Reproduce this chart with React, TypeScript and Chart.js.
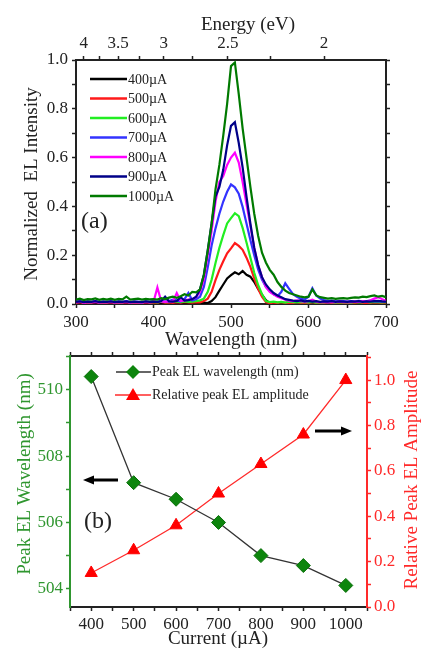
import React, { useEffect, useRef } from 'react';
import { Chart, registerables } from 'chart.js';
Chart.register(...registerables);

// ---------- Panel (a) data ----------
const wavelengths = [
  300, 305, 310, 315, 320, 325, 330, 335, 340, 345,
  350, 355, 360, 365, 370, 375, 380, 385, 390, 395,
  400, 405, 410, 415, 420, 425, 430, 435, 440, 445,
  450, 455, 460, 465, 470, 475, 480, 485, 490, 495,
  500, 505, 510, 515, 520, 525, 530, 535, 540, 545,
  550, 555, 560, 565, 570, 575, 580, 585, 590, 595,
  600, 605, 610, 615, 620, 625, 630, 635, 640, 645,
  650, 655, 660, 665, 670, 675, 680, 685, 690, 695,
  700,
];

const seriesLabels = ['400\u00b5A', '500\u00b5A', '600\u00b5A', '700\u00b5A', '800\u00b5A', '900\u00b5A', '1000\u00b5A'];
const seriesColors = ['#000000', '#ff1a1a', '#22ee22', '#3333ff', '#ff00ff', '#000088', '#007a00'];

const el400 = [
  0.004, 0.006, 0.003, 0.005, 0.004, 0.006, 0.003, 0.005, 0.004, 0.006,
  0.004, 0.005, 0.003, 0.006, 0.004, 0.005, 0.003, 0.004, 0.006, 0.004,
  0.005, 0.004, 0.006, 0.004, 0.005, 0.003, 0.006, 0.004, 0.005, 0.006,
  0.004, 0.006, 0.005, 0.006, 0.004, 0.012, 0.028, 0.055, 0.08, 0.105,
  0.118, 0.13, 0.122, 0.135, 0.12, 0.112, 0.09, 0.062, 0.038, 0.016,
  0.004, 0.002, 0.005, 0.003, 0.004, 0.002, 0.005, 0.003, 0.004, 0.003,
  0.004, 0.003, 0.005, 0.002, 0.004, 0.003, 0.005, 0.004, 0.003, 0.004,
  0.003, 0.005, 0.004, 0.003, 0.005, 0.004, 0.003, 0.005, 0.004, 0.003,
  0.004,
];
const el500 = [
  0.006, 0.008, 0.005, 0.007, 0.006, 0.009, 0.005, 0.007, 0.006, 0.008,
  0.005, 0.007, 0.006, 0.008, 0.005, 0.007, 0.006, 0.005, 0.008, 0.006,
  0.007, 0.005, 0.009, 0.006, 0.007, 0.005, 0.008, 0.006, 0.009, 0.007,
  0.006, 0.008, 0.007, 0.012, 0.022, 0.05, 0.098, 0.14, 0.175, 0.208,
  0.228, 0.25, 0.238, 0.222, 0.19, 0.152, 0.105, 0.062, 0.03, 0.008,
  0.003, 0.006, 0.004, 0.007, 0.005, 0.006, 0.004, 0.007, 0.005, 0.006,
  0.005, 0.007, 0.004, 0.006, 0.005, 0.007, 0.004, 0.006, 0.005, 0.006,
  0.004, 0.006, 0.005, 0.007, 0.004, 0.006, 0.005, 0.007, 0.006, 0.005,
  0.006,
];
const el600 = [
  0.008, 0.01, 0.007, 0.009, 0.008, 0.011, 0.007, 0.009, 0.008, 0.01,
  0.007, 0.009, 0.008, 0.01, 0.007, 0.009, 0.008, 0.007, 0.01, 0.008,
  0.009, 0.007, 0.011, 0.008, 0.009, 0.012, 0.01, 0.008, 0.011, 0.009,
  0.01, 0.012, 0.015, 0.022, 0.05, 0.1, 0.168, 0.23, 0.282, 0.33,
  0.352, 0.372, 0.36, 0.312, 0.252, 0.19, 0.128, 0.078, 0.04, 0.012,
  0.008, 0.01, 0.007, 0.009, 0.006, 0.01, 0.008, 0.007, 0.009, 0.008,
  0.007, 0.009, 0.006, 0.008, 0.007, 0.009, 0.008, 0.006, 0.008, 0.007,
  0.008, 0.006, 0.009, 0.007, 0.008, 0.01, 0.007, 0.009, 0.008, 0.007,
  0.008,
];
const el700 = [
  0.01, 0.012, 0.008, 0.011, 0.009, 0.012, 0.008, 0.01, 0.009, 0.011,
  0.008, 0.011, 0.009, 0.012, 0.008, 0.01, 0.009, 0.008, 0.011, 0.009,
  0.012, 0.009, 0.014, 0.01, 0.012, 0.018, 0.015, 0.01, 0.02, 0.045,
  0.015, 0.02, 0.03, 0.07, 0.15, 0.24, 0.31, 0.37, 0.42, 0.46,
  0.49, 0.478, 0.452, 0.398, 0.33, 0.262, 0.2, 0.142, 0.1, 0.07,
  0.052, 0.04, 0.032, 0.05, 0.085, 0.062, 0.04, 0.03, 0.022, 0.018,
  0.03, 0.065, 0.035, 0.022, 0.016, 0.012, 0.014, 0.011, 0.013, 0.012,
  0.01, 0.012, 0.011, 0.013, 0.01, 0.012, 0.014, 0.011, 0.012, 0.01,
  0.011,
];
const el800 = [
  0.006, 0.009, 0.005, 0.008, 0.007, 0.009, 0.006, 0.008, 0.007, 0.009,
  0.006, 0.008, 0.007, 0.009, 0.006, 0.008, 0.007, 0.006, 0.009, 0.007,
  0.008, 0.068, 0.01, 0.009, 0.011, 0.01, 0.045, 0.012, 0.015, 0.018,
  0.02, 0.028, 0.05, 0.1, 0.2, 0.3, 0.42, 0.5, 0.525, 0.57,
  0.6, 0.62, 0.58, 0.5, 0.41, 0.32, 0.23, 0.16, 0.11, 0.07,
  0.05, 0.04, 0.03, 0.024, 0.018, 0.014, 0.012, 0.015, 0.012, 0.01,
  0.012, 0.018, 0.01, 0.008, 0.009, 0.007, 0.009, 0.008, 0.01, 0.008,
  0.009, 0.008, 0.01, 0.009, 0.012, 0.01, 0.015, 0.022, 0.028, 0.02,
  0.012,
];
const el900 = [
  0.009, 0.011, 0.008, 0.01, 0.009, 0.012, 0.008, 0.01, 0.009, 0.011,
  0.008, 0.01, 0.009, 0.011, 0.008, 0.01, 0.009, 0.008, 0.011, 0.009,
  0.01, 0.008, 0.012, 0.03, 0.011, 0.01, 0.012, 0.028, 0.014, 0.016,
  0.02, 0.03, 0.06, 0.12, 0.22, 0.33, 0.44, 0.48, 0.55, 0.65,
  0.73, 0.745, 0.66, 0.56, 0.44, 0.33, 0.23, 0.16, 0.11, 0.08,
  0.06, 0.045, 0.035, 0.028, 0.02, 0.017, 0.014, 0.012, 0.015, 0.011,
  0.013, 0.01, 0.012, 0.009, 0.011, 0.01, 0.012, 0.009, 0.011, 0.01,
  0.009, 0.011, 0.01, 0.012, 0.009, 0.011, 0.01, 0.012, 0.013, 0.011,
  0.01,
];
const el1000 = [
  0.018, 0.022, 0.016, 0.02, 0.019, 0.023, 0.017, 0.021, 0.018, 0.022,
  0.017, 0.021, 0.019, 0.03, 0.018, 0.02, 0.022, 0.018, 0.021, 0.019,
  0.02, 0.018, 0.024, 0.02, 0.026, 0.03, 0.025, 0.032, 0.04, 0.035,
  0.05, 0.048, 0.06, 0.12, 0.22, 0.33, 0.47, 0.57, 0.69, 0.82,
  0.975, 0.99, 0.86, 0.72, 0.6, 0.48, 0.37, 0.28, 0.21, 0.17,
  0.14, 0.12, 0.09, 0.07, 0.055, 0.045, 0.04, 0.035, 0.03, 0.027,
  0.03, 0.06, 0.035, 0.028, 0.025, 0.022, 0.024, 0.021, 0.023, 0.024,
  0.022, 0.025, 0.027, 0.026, 0.03, 0.028, 0.032, 0.035, 0.03, 0.033,
  0.028,
];
const spectra = [el400, el500, el600, el700, el800, el900, el1000];

const wlTicks = [300, 350, 400, 450, 500, 550, 600, 650, 700];
const intensityTicks = [0, 0.1, 0.2, 0.3, 0.4, 0.5, 0.6, 0.7, 0.8, 0.9, 1.0];
const energyMajor = [4, 3.5, 3, 2.5, 2];
const energyMinor = [3.75, 3.25, 2.75, 2.25];

// ---------- Panel (b) data ----------
const currents = [400, 500, 600, 700, 800, 900, 1000];
const peakWavelength = [510.4, 507.2, 506.7, 506.0, 505.0, 504.7, 504.1];
const relAmplitude = [0.15, 0.25, 0.36, 0.5, 0.63, 0.76, 1.0];
const currentTicks = [350, 400, 450, 500, 550, 600, 650, 700, 750, 800, 850, 900, 950, 1000, 1050];
const wlPeakTicks = [504, 505, 506, 507, 508, 509, 510, 511];
const ampTicks = [0, 0.1, 0.2, 0.3, 0.4, 0.5, 0.6, 0.7, 0.8, 0.9, 1.0, 1.1];

const SERIF = '"Liberation Serif", "DejaVu Serif", serif';
const INK = '#222222';
const GREEN = '#2f962f';
const MARK_GREEN = '#0d850d';
const RED = '#ff2a2a';

// canvas B is placed at this page offset
const B_TOP = 340;

const setTicks = (values: number[]) => (scale: any) => {
  scale.ticks = values.map((v) => ({ value: v }));
};
const isEvenTenth = (v: number) => Math.round(v * 10) % 2 === 0;

function drawArrow(ctx: CanvasRenderingContext2D, tail: number, tip: number, y: number) {
  const dir = tip > tail ? 1 : -1;
  const headLen = 11;
  ctx.save();
  ctx.strokeStyle = '#000';
  ctx.fillStyle = '#000';
  ctx.lineWidth = 3;
  ctx.beginPath();
  ctx.moveTo(tail, y);
  ctx.lineTo(tip - dir * headLen, y);
  ctx.stroke();
  ctx.beginPath();
  ctx.moveTo(tip, y);
  ctx.lineTo(tip - dir * headLen, y - 4.5);
  ctx.lineTo(tip - dir * headLen, y + 4.5);
  ctx.closePath();
  ctx.fill();
  ctx.restore();
}

function vText(ctx: CanvasRenderingContext2D, text: string, x: number, y: number, color: string, font: string) {
  ctx.save();
  ctx.translate(x, y);
  ctx.rotate(-Math.PI / 2);
  ctx.font = font;
  ctx.fillStyle = color;
  ctx.textAlign = 'center';
  ctx.textBaseline = 'middle';
  ctx.fillText(text, 0, 0);
  ctx.restore();
}

const decorA = {
  id: 'decorA',
  afterDraw(chart: any) {
    const ctx: CanvasRenderingContext2D = chart.ctx;
    ctx.save();
    ctx.fillStyle = INK;
    ctx.textBaseline = 'middle';
    ctx.textAlign = 'center';
    ctx.font = `19px ${SERIF}`;
    ctx.fillText('Energy (eV)', 248, 25);
    ctx.fillText('Wavelength (nm)', 231, 340);
    vText(ctx, 'Normalized  EL Intensity', 32, 184, INK, `19px ${SERIF}`);
    // legend
    chart.data.datasets.forEach((ds: any, i: number) => {
      const y = 79 + i * 19.5;
      ctx.strokeStyle = ds.borderColor;
      ctx.lineWidth = 2.4;
      ctx.beginPath();
      ctx.moveTo(90, y);
      ctx.lineTo(127, y);
      ctx.stroke();
      ctx.fillStyle = INK;
      ctx.textAlign = 'left';
      ctx.font = `14px ${SERIF}`;
      ctx.fillText(ds.label, 128, y + 1);
    });
    ctx.textAlign = 'left';
    ctx.font = `24px ${SERIF}`;
    ctx.fillStyle = INK;
    ctx.fillText('(a)', 81, 222);
    ctx.restore();
  },
};

const decorB = {
  id: 'decorB',
  afterDraw(chart: any) {
    const ctx: CanvasRenderingContext2D = chart.ctx;
    const o = -B_TOP; // page y -> canvas y
    ctx.save();
    ctx.textBaseline = 'middle';
    vText(ctx, 'Peak EL Wavelength (nm)', 25, 474 + o, GREEN, `19px ${SERIF}`);
    vText(ctx, 'Relative Peak EL Amplitude', 412, 480 + o, RED, `19px ${SERIF}`);
    ctx.fillStyle = INK;
    ctx.textAlign = 'center';
    ctx.font = `19px ${SERIF}`;
    ctx.fillText('Current (\u00b5A)', 218, 639 + o);
    // legend
    const y1 = 372 + o;
    const y2 = 395 + o;
    ctx.strokeStyle = '#333';
    ctx.lineWidth = 1.5;
    ctx.beginPath();
    ctx.moveTo(116, y1);
    ctx.lineTo(151, y1);
    ctx.stroke();
    ctx.fillStyle = MARK_GREEN;
    ctx.beginPath();
    ctx.moveTo(133, y1 - 7);
    ctx.lineTo(140, y1);
    ctx.lineTo(133, y1 + 7);
    ctx.lineTo(126, y1);
    ctx.closePath();
    ctx.fill();
    ctx.strokeStyle = RED;
    ctx.beginPath();
    ctx.moveTo(115, y2);
    ctx.lineTo(151, y2);
    ctx.stroke();
    ctx.fillStyle = '#ff0000';
    ctx.beginPath();
    ctx.moveTo(133, y2 - 7);
    ctx.lineTo(140, y2 + 5);
    ctx.lineTo(126, y2 + 5);
    ctx.closePath();
    ctx.fill();
    ctx.fillStyle = INK;
    ctx.textAlign = 'left';
    ctx.font = `14px ${SERIF}`;
    ctx.fillText('Peak EL wavelength (nm)', 152, y1);
    ctx.fillText('Relative peak EL amplitude', 152, y2);
    ctx.font = `24px ${SERIF}`;
    ctx.fillText('(b)', 84, 522 + o);
    drawArrow(ctx, 118, 83, 480 + o);
    drawArrow(ctx, 315, 352, 431 + o);
    ctx.restore();
  },
};

function makeSpectrumChart(canvas: HTMLCanvasElement) {
  const tickFont = { family: SERIF, size: 17 };
  const axisCommon = (color: string) => ({
    grid: { drawOnChartArea: false, drawTicks: true, tickLength: 4, color, tickColor: color, tickWidth: 1.5 },
    border: { display: true, color, width: 2 },
  });
  return new Chart(canvas, {
    type: 'line',
    data: {
      datasets: spectra.map((vals, i) => ({
        label: seriesLabels[i],
        data: wavelengths.map((w, j) => ({ x: w, y: vals[j] })),
        borderColor: seriesColors[i],
        backgroundColor: seriesColors[i],
        borderWidth: 2.2,
        pointRadius: 0,
        tension: 0,
        order: spectra.length - 1 - i,
      })),
    },
    options: {
      responsive: false,
      animation: false,
      devicePixelRatio: 1,
      layout: { padding: 0 },
      plugins: { legend: { display: false }, tooltip: { enabled: false } },
      events: [],
      scales: {
        x: {
          type: 'linear', position: 'bottom', min: 300, max: 700,
          afterBuildTicks: setTicks(wlTicks),
          afterFit: (s: any) => { s.height = 48; },
          ticks: { autoSkip: false, maxRotation: 0, padding: 4, color: INK, font: tickFont,
            callback: (v: any) => (v % 100 === 0 ? String(v) : '') },
          ...axisCommon(INK),
        },
        x2: {
          type: 'linear', position: 'top', min: 300, max: 700,
          afterBuildTicks: setTicks([...energyMajor, ...energyMinor].map((e) => 1240 / e).sort((a, b) => a - b)),
          afterFit: (s: any) => { s.height = 60; },
          ticks: { autoSkip: false, maxRotation: 0, padding: 2, color: INK, font: tickFont,
            callback: (v: any) => {
              const e = Math.round((1240 / v) * 100) / 100;
              return energyMajor.includes(e) ? String(e) : '';
            } },
          ...axisCommon(INK),
        },
        y: {
          type: 'linear', position: 'left', min: 0, max: 1.0,
          afterBuildTicks: setTicks(intensityTicks),
          afterFit: (s: any) => { s.width = 76; },
          ticks: { autoSkip: false, padding: 4, color: INK, font: tickFont,
            callback: (v: any) => (isEvenTenth(v) ? Number(v).toFixed(1) : '') },
          ...axisCommon(INK),
        },
        y2: {
          type: 'linear', position: 'right', min: 0, max: 1.0,
          afterBuildTicks: setTicks(intensityTicks),
          afterFit: (s: any) => { s.width = 47; },
          ticks: { display: false },
          ...axisCommon(INK),
        },
      },
    } as any,
    plugins: [decorA],
  });
}

function makeTrendChart(canvas: HTMLCanvasElement) {
  const tickFont = { family: SERIF, size: 17 };
  const axisCommon = (color: string) => ({
    grid: { drawOnChartArea: false, drawTicks: true, tickLength: 4, color, tickColor: color, tickWidth: 1.5 },
    border: { display: true, color, width: 2 },
  });
  return new Chart(canvas, {
    type: 'line',
    data: {
      datasets: [
        {
          label: 'Peak EL wavelength (nm)',
          data: currents.map((c, i) => ({ x: c, y: peakWavelength[i] })),
          xAxisID: 'x', yAxisID: 'y',
          borderColor: '#333333', borderWidth: 1.3,
          pointStyle: 'rectRot', pointRadius: 7,
          pointBackgroundColor: MARK_GREEN, pointBorderColor: '#0a700a', pointBorderWidth: 1,
          tension: 0,
        },
        {
          label: 'Relative peak EL amplitude',
          data: currents.map((c, i) => ({ x: c, y: relAmplitude[i] })),
          xAxisID: 'x', yAxisID: 'y2',
          borderColor: RED, borderWidth: 1.3,
          pointStyle: 'triangle', pointRadius: 7,
          pointBackgroundColor: '#ff0000', pointBorderColor: '#ff0000', pointBorderWidth: 1,
          tension: 0,
        },
      ],
    },
    options: {
      responsive: false,
      animation: false,
      devicePixelRatio: 1,
      layout: { padding: 0 },
      plugins: { legend: { display: false }, tooltip: { enabled: false } },
      events: [],
      scales: {
        x: {
          type: 'linear', position: 'bottom', min: 350, max: 1050,
          afterBuildTicks: setTicks(currentTicks),
          afterFit: (s: any) => { s.height = 43; },
          ticks: { autoSkip: false, maxRotation: 0, padding: 3, color: INK, font: tickFont,
            callback: (v: any) => (v % 100 === 0 ? String(v) : '') },
          ...axisCommon(INK),
        },
        xt: {
          type: 'linear', position: 'top', min: 350, max: 1050,
          afterBuildTicks: setTicks(currentTicks),
          afterFit: (s: any) => { s.height = 16; },
          ticks: { display: false },
          ...axisCommon(INK),
        },
        y: {
          type: 'linear', position: 'left', min: 503.45, max: 511.02,
          afterBuildTicks: setTicks(wlPeakTicks),
          afterFit: (s: any) => { s.width = 70; },
          ticks: { autoSkip: false, padding: 3, color: GREEN, font: tickFont,
            callback: (v: any) => (v % 2 === 0 ? String(v) : '') },
          ...axisCommon(GREEN),
        },
        y2: {
          type: 'linear', position: 'right', min: 0, max: 1.106,
          afterBuildTicks: setTicks(ampTicks),
          afterFit: (s: any) => { s.width = 66; },
          ticks: { autoSkip: false, padding: 3, color: RED, font: tickFont,
            callback: (v: any) => (isEvenTenth(v) && v <= 1.0001 ? Number(v).toFixed(1) : '') },
          ...axisCommon(RED),
        },
      },
    } as any,
    plugins: [decorB],
  });
}

export default function App() {
  const refA = useRef<HTMLCanvasElement | null>(null);
  const refB = useRef<HTMLCanvasElement | null>(null);
  useEffect(() => {
    const a = refA.current ? makeSpectrumChart(refA.current) : null;
    const b = refB.current ? makeTrendChart(refB.current) : null;
    return () => {
      a?.destroy();
      b?.destroy();
    };
  }, []);
  return (
    <div style={{ position: 'absolute', left: 0, top: 0, width: 433, height: 650, background: '#fff' }}>
      <canvas ref={refA} width={433} height={352} style={{ position: 'absolute', left: 0, top: 0, width: 433, height: 352 }} />
      <canvas ref={refB} width={433} height={650 - B_TOP} style={{ position: 'absolute', left: 0, top: B_TOP, width: 433, height: 650 - B_TOP }} />
    </div>
  );
}
